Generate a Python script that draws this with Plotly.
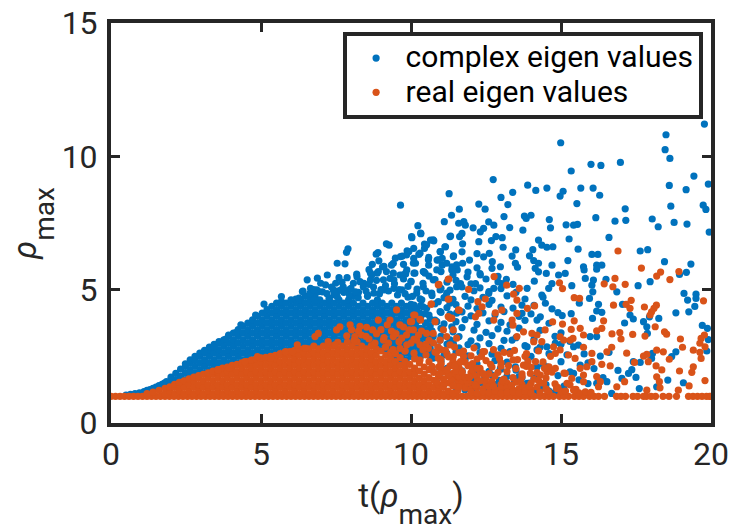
import plotly.graph_objects as go

# ---- complex eigen values: dense mass, read column by column (t, list of rho) ----
blue_col_t = [0.5,0.8,1.1,1.3,1.5,1.7,1.85,2.0,2.16,2.32,2.48,2.64,2.8,2.96,3.12,3.28,3.44,3.6,3.76,3.92,4.08,4.24,4.4,4.56,4.72,4.88,5.04,5.2,5.36,5.52,5.68,5.84,6.0,6.16,6.32,6.48,6.64,6.8,6.96,7.12,7.28,7.44,7.6,7.76,7.92,8.08,8.24,8.4,8.56,8.72,8.88,9.04,9.2,9.36,9.52,9.68,9.84,10.0,10.16,10.32,10.48,10.64]
blue_col_rho = [
[1.05],[1.1],[1.18],[1.25],[1.35],[1.45],[1.35,1.55],[1.5,1.72],[1.62,1.86],
[1.5,1.75,2.02],[1.62,1.87,2.12,2.22],[1.75,2.0,2.25,2.37],[1.87,2.12,2.37,2.5],[2.0,2.25,2.5,2.62],
[1.87,2.12,2.37,2.62,2.72],[2.0,2.25,2.5,2.75,2.85],[2.12,2.37,2.62,2.87,2.95],[2.25,2.5,2.75,3.0,3.05],
[2.12,2.37,2.62,2.87,3.12],[2.25,2.5,2.75,3.0,3.25,3.3],[2.37,2.62,2.87,3.12,3.37],[2.25,2.5,2.75,3.0,3.25,3.5],
[2.37,2.62,2.87,3.12,3.37,3.62],[2.5,2.75,3.0,3.25,3.5,3.75],[2.37,2.62,2.87,3.12,3.37,3.62,3.87],[2.5,2.75,3.0,3.25,3.5,3.75,4.0],
[2.62,2.87,3.12,3.37,3.62,3.87,4.12],[2.5,2.75,3.0,3.25,3.5,3.75,4.0,4.25],[2.62,2.87,3.12,3.37,3.62,3.87,4.12,4.37],[2.75,3.0,3.25,3.5,3.75,4.0,4.25,4.5],
[2.62,2.87,3.12,3.37,3.62,3.87,4.12,4.37,4.55],[2.75,3.0,3.25,3.5,3.75,4.0,4.25,4.5],[2.87,3.12,3.37,3.62,3.87,4.12,4.37,4.62],[2.75,3.0,3.25,3.5,3.75,4.0,4.25,4.5,4.65],
[2.87,3.12,3.37,3.62,3.87,4.12,4.37,4.62],[3.0,3.25,3.5,3.75,4.0,4.25,4.5,4.75],[2.87,3.12,3.37,3.62,3.87,4.12,4.37,4.62,4.85],[3.0,3.25,3.5,3.75,4.0,4.25,4.5,4.75],
[2.87,3.12,3.37,3.62,3.87,4.12,4.37,4.62],[3.0,3.25,3.5,3.75,4.0,4.25,4.5],[3.12,3.37,3.62,3.87,4.12,4.37,4.62],[3.0,3.25,3.5,3.75,4.0,4.25,4.5,4.8],
[3.12,3.37,3.62,3.87,4.12,4.37,4.62],[3.0,3.25,3.5,3.75,4.0,4.25,4.5,4.9],[3.12,3.37,3.62,3.87,4.12,4.37,4.62],[3.0,3.25,3.5,3.75,4.0,4.25,4.5,4.75],
[2.87,3.12,3.37,3.62,3.87,4.12,4.37,4.7],[3.0,3.25,3.5,3.75,4.0,4.25,4.5],[2.87,3.12,3.37,3.62,3.87,4.12,4.37,4.8],[3.0,3.25,3.5,3.75,4.0,4.25,4.5],
[2.87,3.12,3.37,3.62,3.87,4.12,4.37,4.62],[2.75,3.0,3.25,3.5,3.75,4.0,4.25,4.5],[2.62,2.87,3.12,3.37,3.62,3.87,4.12,4.37],[2.5,2.75,3.0,3.25,3.5,3.75,4.0,4.25,4.5],
[2.37,2.62,2.87,3.12,3.37,3.62,3.87,4.12,4.37],[2.25,2.5,2.75,3.0,3.25,3.5,3.75,4.0,4.25,4.5],[2.37,2.62,2.87,3.12,3.37,3.62,3.87,4.12,4.37],[2.5,2.75,3.0,3.25,3.5,3.75,4.0,4.25,4.45],
[2.62,2.87,3.12,3.37,3.62,3.87,4.3],[2.5,2.75,3.0,3.25,3.55,3.95,4.4],[2.62,2.87,3.2,3.45,3.75,4.1],[2.5,2.8,3.0,3.35,3.65,3.9],
]

# ---- complex eigen values: individually readable points ----
blue_t = [19.78,18.5,18.47,18.63,14.99,16.0,16.33,16.98,15.34,19.43,12.74,19.91,18.61,13.89,14.16,14.53,13.39,11.27,15.66,16.07,19.17,15.07,14.97,16.29,13.0,13.23,15.53,18.66,19.74,19.83,17.14,12.26,12.47,11.61,9.65,11.35,13.1,13.78,14.0,13.84,14.61,16.16,16.8,17.16,18.04,18.77,19.2,18.24,19.94,11.11,11.59,11.76,11.81,12.07,12.59,12.76,13.29,15.17,15.42,15.55,14.65,13.73,10.23,10.33,10.03,12.31,12.42,11.7,11.62,11.32,16.6,15.27,12.83,13.04,12.68,12.26,11.72,14.25,14.36,14.53,14.73,10.65,10.76,10.45,10.45,11.15,13.07,13.49,14.06,15.57,17.64,17.89,16.03,16.23,10.09,9.87,9.71,10.98,11.7,12.2,12.42,12.61,13.37,13.95,10.26,10.09,10.15,10.59,11.42,11.04,10.87,11.95,11.72,12.71,15.23,18.45,19.33,15.75,15.77,16.19,16.36,16.19,14.7,13.48,13.55,14.09,14.25,14.14,12.98,12.7,12.2,10.59,10.43,9.82,11.37,11.04,11.54,14.25,14.51,14.92,15.14,15.81,16.08,16.03,16.5,19.18,18.95,17.97,17.57,12.31,12.15,11.87,11.65,13.03,13.18,14.11,15.36,16.86,19.1,19.22,19.5,19.5,14.7,14.59,14.36,13.87,12.76,12.59,15.95,16.06,14.48,15.61,16.25,17.05,19.46,19.26,18.83,16.19,16.36,16.05,15.34,15.04,14.31,14.2,13.7,13.7,17.3,17.41,17.12,17.75,17.95,18.26,17.86,17.88,19.71,19.88,19.91,19.86,18.83,18.69,18.05,18.02,17.41,17.64,17.36,17.25,17.5,17.03,18.56,19.08,17.61,18.19,16.31,15.77,15.42,15.97,16.19,15.58,14.81,14.53,14.2,13.87,13.37,15.42,15.64,16.53,16.69,16.19,13.87,13.48,12.98,12.48,14.53,
5.1,5.68,4.33,4.82,3.11,3.44,3.83,4.16,6.54,6.88,6.99,7.21,7.49,7.6,7.87,8.19,7.54,7.8,7.9,7.85,8.9,8.84,8.93,9.18,9.27,9.48,9.65,9.85,9.41,9.93,8.71,9.1,8.65,8.87,9.18,8.65,9.7,9.82,9.43,6.38,6.65,6.27,6.93,7.27,7.54,6.77,7.93,8.43,8.76,9.1,9.43,9.7,
6.86,6.63,7.41,7.74,8.08,8.41,8.69,8.91,9.08,9.41,9.63,9.86,10.08,10.3,10.13,10.41,10.58,10.52,10.74,10.02,10.32,11.3,11.13,10.97,11.41,10.91,11.19,11.52,10.86,10.47,10.74,11.36,10.41,10.19,10.97,11.52,10.69,11.19,10.36,10.91,11.3,10.52,10.97,10.19,11.52,11.36,10.86,10.52,10.97,11.41,10.74,11.19,10.74,
0.65,0.95,1.2,1.4,1.6,1.78,7.2,7.55,7.95,8.25,8.55,8.95,9.25,9.55,9.8,10.05,
6.4,6.75,7.05,7.35,7.65,8.0,8.3,8.6,8.85,9.15,9.45,9.75,7.15,7.45,7.7,8.15,8.5,8.75,9.0,9.3,9.6,9.9,8.2,8.6,9.05,9.35,9.75,10.0]
blue_rho = [11.21,10.81,10.25,9.92,10.51,9.7,9.66,9.77,9.45,9.26,9.13,8.96,8.91,8.92,8.72,8.81,8.65,8.6,8.81,8.81,8.75,8.69,8.51,8.54,8.46,8.19,8.23,8.13,8.17,8.01,8.03,8.21,8.02,8.02,8.17,7.79,7.74,7.76,7.79,7.67,7.63,7.7,7.57,7.6,7.65,7.52,7.46,7.36,7.16,7.55,7.49,7.55,7.42,7.32,7.54,7.42,7.33,7.43,7.42,7.45,7.32,7.23,7.4,7.1,6.95,7.17,7.3,7.11,6.99,7.01,6.96,6.9,6.99,6.95,6.84,6.8,6.72,6.86,6.67,6.59,6.61,6.86,6.83,6.71,6.55,6.61,6.59,6.49,6.5,6.52,6.45,6.5,6.32,6.32,6.55,6.46,6.26,6.42,6.42,6.35,6.23,6.36,6.26,6.27,6.32,6.17,5.99,6.21,6.27,6.17,6.11,6.11,5.99,6.05,6.09,6.05,5.96,5.86,5.74,5.92,5.92,5.77,5.92,5.99,5.84,6.09,5.99,5.8,5.86,5.8,5.82,5.92,5.67,5.59,5.86,5.92,5.74,5.67,5.61,5.55,5.61,5.42,5.36,5.17,5.39,5.65,5.57,5.3,5.15,5.55,5.23,5.48,5.23,5.23,5.39,5.32,5.15,4.92,4.86,4.61,4.83,4.67,5.23,5.05,4.8,5.05,5.05,4.86,4.67,4.92,4.49,4.49,4.45,4.45,4.37,4.17,4.13,4.2,4.15,3.92,4.1,4.03,3.98,3.86,4.42,4.11,4.05,3.9,3.75,3.8,3.98,3.92,3.61,3.36,3.66,3.55,3.13,2.7,2.67,2.49,2.61,2.42,2.3,2.27,2.0,1.86,1.71,1.67,1.61,1.51,1.29,1.36,2.51,2.59,2.86,3.24,3.24,2.92,3.0,2.86,2.74,2.86,3.11,1.86,2.17,1.55,1.11,1.49,1.49,2.11,2.05,1.49,2.11,
4.46,4.74,3.68,4.05,2.68,2.84,3.15,3.39,5.37,5.43,5.24,5.55,5.24,5.45,5.45,5.58,5.99,5.97,6.53,6.4,6.39,6.33,6.08,6.72,6.67,6.18,6.24,6.3,5.99,6.43,5.95,5.87,5.62,5.62,5.68,5.37,5.55,5.62,5.37,4.93,5.05,4.68,4.93,4.68,4.74,4.62,4.99,5.24,4.87,4.99,5.05,4.99,
4.99,4.86,4.99,5.11,5.24,5.11,5.55,5.68,5.37,5.62,5.55,5.74,5.99,6.37,5.62,5.68,6.12,6.68,6.87,6.99,7.12,6.99,6.61,6.43,6.24,6.12,5.99,5.93,5.74,5.62,5.37,5.74,5.11,4.87,4.99,5.11,4.87,4.87,4.62,4.55,4.49,4.3,4.18,4.24,4.12,3.61,3.8,3.49,3.11,2.99,3.24,2.62,2.43,
1.07,1.13,1.22,1.3,1.4,1.5,4.85,4.95,4.8,4.9,4.75,4.85,4.95,4.8,4.85,4.75,
4.95,5.0,4.92,5.1,4.98,5.05,5.3,5.2,5.35,5.15,5.22,5.4,5.18,4.9,5.28,4.92,4.95,5.1,5.0,5.42,5.0,5.12,5.48,5.75,5.85,5.92,5.95,5.3]

# ---- complex eigen values: scattered mid-density field right of the solid mass ----
blue_field_t = [10.1,10.6,11.0,11.4,11.9,12.3,12.9,10.0,10.4,10.8,11.2,11.5,12.0,12.5,12.9,13.4,10.2,10.5,11.0,11.3,11.7,12.1,12.3,12.6,13.0,13.5,9.9,10.3,10.7,11.1,11.4,11.8,12.0,12.4,12.7,13.2,13.8,14.4,10.1,10.4,10.8,11.2,11.5,11.9,12.2,12.6,13.0,13.4,14.1,14.7,10.3,10.6,11.0,11.3,11.7,12.0,12.4,12.8,13.1,13.6,14.0,14.9,10.2,10.5,10.8,11.1,11.5,11.8,12.2,12.6,13.0,13.3,13.8,14.6,10.4,10.7,11.0,11.4,11.7,12.1,12.5,12.9,13.2,13.6,14.3,15.0,10.3,10.6,11.0,11.3,11.6,12.0,12.3,12.7,13.1,13.5,14.1,14.8,15.3,10.5,10.9,11.2,11.6,11.9,12.2,12.6,13.0,13.8,14.3,15.0,10.7,11.1,11.5,11.9,12.3,12.7,13.3,14.0,14.6,15.2,16.6,11.0,11.4,11.8,12.2,12.8,13.2,13.9,14.4,15.0,15.9,11.2,11.7,12.1,12.6,13.0,13.5,14.2,15.3,16.1,16.9,11.5,12.1,12.5,13.1,13.6,14.1,14.9,15.6,16.4,12.0,12.6,13.2,13.9,14.5,15.1,15.9,
10.7,10.95,11.2,11.45,11.7,11.95,12.2,12.45,12.7,12.95,13.2,13.45,13.7,13.95,14.2,10.85,11.1,11.35,11.6,11.85,12.1,12.35,12.6,12.85,13.1,13.35,13.6,13.85,14.1,14.35,14.6,11.5,11.8,12.1,12.4,12.7,13.0,13.3,13.6,13.9,14.2,14.5,14.8]
blue_field_rho = [5.62,5.51,5.68,5.55,5.66,5.6,5.5,5.31,5.24,5.38,5.28,5.35,5.22,5.4,5.29,5.2,5.02,4.95,5.05,4.98,5.1,4.96,5.07,4.93,5.04,4.9,4.72,4.66,4.78,4.7,4.64,4.75,4.62,4.71,4.6,4.77,4.65,4.72,4.42,4.36,4.47,4.33,4.44,4.38,4.29,4.45,4.35,4.31,4.41,4.28,4.12,4.05,4.15,4.08,4.17,4.02,4.13,4.06,4.18,4.0,4.09,4.14,3.82,3.75,3.86,3.72,3.8,3.88,3.7,3.83,3.77,3.68,3.85,3.74,3.52,3.46,3.55,3.42,3.58,3.48,3.4,3.53,3.44,3.56,3.47,3.38,3.22,3.15,3.26,3.12,3.24,3.08,3.19,3.28,3.1,3.2,3.14,3.25,3.06,2.92,2.85,2.96,2.82,2.94,2.88,2.98,2.8,2.9,2.84,2.95,2.62,2.55,2.66,2.52,2.64,2.58,2.68,2.5,2.6,2.56,2.65,2.32,2.25,2.36,2.22,2.34,2.28,2.38,2.2,2.3,2.26,2.05,1.96,2.08,1.94,2.02,1.98,2.1,1.92,2.04,1.97,1.72,1.66,1.76,1.64,1.74,1.68,1.78,1.62,1.7,1.42,1.36,1.46,1.34,1.44,1.38,1.48,
2.0,1.85,1.95,1.75,1.9,1.7,1.85,1.65,1.8,1.6,1.75,1.55,1.7,1.5,1.65,1.55,1.45,1.6,1.4,1.55,1.35,1.5,1.3,1.45,1.25,1.4,1.2,1.35,1.15,1.3,1.2,1.18,1.25,1.15,1.22,1.12,1.2,1.1,1.18,1.12,1.22,1.3,1.15]

# ---- real eigen values: dense mass, read column by column (t, list of rho) ----
orange_col_t = [1.2,1.4,1.6,1.8,1.96,2.12,2.28,2.44,2.6,2.76,2.92,3.08,3.24,3.4,3.56,3.72,3.88,4.04,4.2,4.36,4.52,4.68,4.84,5.0,5.16,5.32,5.48,5.64,5.8,5.96,6.12,6.28,6.44,6.6,6.76,6.92,7.08,7.24,7.4,7.56,7.72,7.88,8.04,8.2,8.36,8.52,8.68,8.84,9.0,9.16,9.32,9.48,9.64,9.8,9.96,10.12,10.28,10.44,10.6,10.76,10.92,11.08,11.24,11.4,11.56]
orange_col_rho = [
[1.1],[1.16],[1.22],[1.1,1.3],[1.2,1.36],[1.1,1.34,1.45],[1.2,1.44,1.52],[1.1,1.34,1.58],[1.2,1.44,1.66],[1.1,1.34,1.58,1.72],[1.2,1.44,1.68,1.78],[1.1,1.34,1.58,1.82],[1.2,1.44,1.68,1.88],
[1.1,1.34,1.58,1.82,1.95],[1.2,1.44,1.68,1.92,2.0],[1.1,1.34,1.58,1.82,2.06],[1.2,1.44,1.68,1.92,2.1],[1.1,1.34,1.58,1.82,2.06,2.16],[1.2,1.44,1.68,1.92,2.16,2.2],
[1.1,1.34,1.58,1.82,2.06,2.26],[1.2,1.44,1.68,1.92,2.16,2.3],[1.1,1.34,1.58,1.82,2.06,2.3,2.36],[1.2,1.44,1.68,1.92,2.16,2.4],[1.1,1.34,1.58,1.82,2.06,2.3,2.44],[1.2,1.44,1.68,1.92,2.16,2.4,2.46],
[1.1,1.34,1.58,1.82,2.06,2.3,2.5],[1.2,1.44,1.68,1.92,2.16,2.4,2.54],[1.1,1.34,1.58,1.82,2.06,2.3,2.54,2.6],[1.2,1.44,1.68,1.92,2.16,2.4,2.64],[1.1,1.34,1.58,1.82,2.06,2.3,2.54,2.68],[1.2,1.44,1.68,1.92,2.16,2.4,2.64,2.72],
[1.1,1.34,1.58,1.82,2.06,2.3,2.54,2.76],[1.2,1.44,1.68,1.92,2.16,2.4,2.64,2.8],[1.1,1.34,1.58,1.82,2.06,2.3,2.54,2.78],[1.2,1.44,1.68,1.92,2.16,2.4,2.64,2.88],[1.1,1.34,1.58,1.82,2.06,2.3,2.54,2.78],[1.2,1.44,1.68,1.92,2.16,2.4,2.64,2.88],
[1.1,1.34,1.58,1.82,2.06,2.3,2.54,2.78,2.95],[1.2,1.44,1.68,1.92,2.16,2.4,2.64,2.88],[1.1,1.34,1.58,1.82,2.06,2.3,2.54,2.78,3.02],[1.2,1.44,1.68,1.92,2.16,2.4,2.64,2.88],[1.1,1.34,1.58,1.82,2.06,2.3,2.54,2.78,3.02],[1.2,1.44,1.68,1.92,2.16,2.4,2.64,2.88],
[1.1,1.34,1.58,1.82,2.06,2.3,2.54,2.78,3.05],[1.2,1.44,1.68,1.92,2.16,2.4,2.64,2.88],[1.1,1.34,1.58,1.82,2.06,2.3,2.54,2.78],[1.2,1.44,1.68,1.92,2.16,2.4,2.64,2.9],[1.1,1.34,1.58,1.82,2.06,2.3,2.54,2.78],[1.2,1.44,1.68,1.92,2.16,2.4,2.7],
[1.1,1.34,1.58,1.82,2.06,2.3,2.54,2.85],[1.2,1.44,1.68,1.92,2.16,2.4,2.64],[1.1,1.34,1.58,1.82,2.06,2.3,2.6],[1.2,1.44,1.68,1.92,2.16,2.45],[1.1,1.34,1.58,1.82,2.06,2.3,2.7],[1.2,1.44,1.68,1.92,2.2],
[1.1,1.34,1.58,1.82,2.06,2.4],[1.2,1.44,1.68,1.95,2.25],[1.1,1.34,1.58,1.82,2.1],[1.2,1.44,1.7,2.0],[1.1,1.34,1.6,1.9],[1.2,1.44,1.75,2.1],[1.1,1.36,1.65],[1.2,1.5,1.85],[1.12,1.4,1.7],[1.22,1.55],
]

# ---- real eigen values: rho = 1 strip, t positions ----
orange_base_t = [0,0.15,0.3,0.45,0.6,0.75,0.9,1.05,1.2,1.35,1.5,1.65,1.8,1.95,2.1,2.25,2.4,2.55,2.7,2.85,3.0,3.15,3.3,3.45,3.6,3.75,3.9,4.05,4.2,4.35,4.5,4.65,4.8,4.95,5.1,5.25,5.4,5.55,5.7,5.85,6.0,6.15,6.3,6.45,6.6,6.75,6.9,7.05,7.2,7.35,7.5,7.65,7.8,7.95,8.1,8.25,8.4,8.55,8.7,8.85,9.0,9.15,9.3,9.45,9.6,9.75,9.9,10.05,10.2,10.35,10.5,10.65,10.8,10.95,11.1,11.25,11.4,11.55,11.7,11.85,12.0,12.15,12.3,12.45,12.6,12.75,12.9,13.05,13.2,13.35,13.5,13.65,13.8,13.95,14.1,14.3,14.45,14.6,14.75,14.95,15.1,15.25,15.45,15.6,15.75,15.95,16.1,16.25,16.45,16.85,17.0,17.15,17.4,17.55,17.75,17.85,18.0,18.15,18.4,18.6,18.85,19.25,19.4,19.55,19.7,19.85,19.95,20.0]

# ---- real eigen values: individually readable points ----
orange_t = [16.9,17.68,18.32,18.19,18.93,18.63,16.8,16.44,16.73,17.14,12.77,11.26,10.93,11.92,13.19,13.61,13.42,13.53,12.48,12.23,11.26,14.95,15.05,15.44,15.62,19.75,17.34,17.17,17.3,16.75,17.78,18.18,18.1,18.02,17.97,14.12,13.88,10.68,11.61,13.03,12.81,13.53,12.37,12.26,16.42,15.44,14.72,15.05,13.37,13.4,10.09,10.32,9.98,11.31,12.15,12.76,14.47,15.34,15.64,15.75,16.36,16.19,18.14,18.45,18.52,16.7,16.96,17.0,17.39,17.8,19.78,19.67,19.63,19.8,18.98,19.05,14.03,14.2,13.75,13.53,14.09,14.36,14.97,15.09,15.31,15.4,15.75,16.03,16.69,16.53,17.19,18.19,18.41,17.86,17.75,18.61,19.41,19.63,19.67,14.75,14.97,14.81,15.25,15.47,16.03,15.86,15.64,16.36,16.64,17.45,17.91,18.17,18.36,18.95,19.41,19.36,18.19,18.28,19.8,18.3,17.86,17.12,19.27,18.91,16.19,16.31,16.25,15.75,15.75,15.36,15.14,14.81,14.53,14.31,13.98,13.75,15.2,14.86,14.42,16.86,15.81,15.42,
9.52,8.91,10.13,10.3,9.3,10.02,9.63,10.8,11.24,10.91,11.24,10.67,11.24,11.58,11.36,7.63,7.52,7.97,8.02,8.3,8.52,8.72,6.8,6.91,7.24,7.47,7.86,8.13,9.08,9.41,9.69,10.08,10.52,11.08,11.41,11.52,10.3,10.58,10.97,11.3,10.91,11.41,10.13,9.63,9.86,10.19,10.74,11.19,9.21,9.93,6.21,5.82,6.05,6.49,5.32,4.88,4.46,3.94,3.57,
8.1,8.35,8.6,8.85,9.1,9.35,9.6,9.85,10.1,10.35,10.6,8.25,8.5,8.8,9.0,9.25,9.5,9.75,10.0,10.25,10.5,10.75,11.0,9.15,9.4,9.8,10.4,10.85]
orange_rho = [6.45,5.81,5.66,5.51,5.68,5.38,5.42,5.22,5.11,5.2,5.49,5.4,5.2,5.01,5.17,5.05,4.83,4.61,4.65,4.55,4.65,5.26,5.04,4.7,4.67,4.58,4.6,4.45,4.3,4.42,4.35,4.42,4.3,4.17,4.05,4.39,4.3,4.46,4.22,4.23,4.13,4.11,4.36,4.11,3.83,3.83,3.79,3.71,3.86,3.67,4.05,3.86,3.8,3.92,3.98,3.86,3.49,3.51,3.55,3.3,3.55,3.46,3.61,3.42,3.33,3.34,3.39,3.15,3.32,3.26,3.3,3.17,2.99,2.86,3.15,2.84,3.36,3.3,3.42,3.24,3.05,3.05,3.23,3.11,3.11,3.17,2.84,2.61,2.84,2.67,2.62,2.73,2.67,2.57,2.51,2.39,2.73,2.65,2.42,2.86,2.74,2.61,2.55,2.42,2.3,2.11,2.05,2.2,2.14,2.27,2.3,2.14,1.99,1.95,2.11,1.9,1.73,1.55,1.59,1.32,1.23,1.55,1.39,1.23,1.74,1.55,1.36,1.8,1.55,1.67,1.86,2.05,1.92,1.8,1.86,2.17,1.49,1.36,1.49,1.36,1.17,1.23,
4.24,3.86,4.05,3.89,3.86,3.8,3.68,3.8,3.99,5.18,5.39,4.46,4.64,4.24,3.93,3.61,3.49,3.68,3.49,3.62,3.59,3.49,3.24,3.36,3.05,2.93,3.27,3.24,3.11,3.24,3.18,3.49,3.36,3.49,3.49,3.18,2.93,2.8,3.11,2.93,2.43,2.49,2.43,2.8,2.93,3.11,3.36,3.24,3.68,3.49,2.93,2.68,2.68,2.8,2.43,2.49,2.3,2.05,1.99,
3.1,3.3,3.15,3.35,3.2,3.45,3.05,3.3,3.15,3.45,3.1,3.45,3.25,3.0,3.5,3.0,3.35,3.6,3.0,3.3,2.95,3.0,2.75,2.85,2.75,2.7,2.75,2.65]

# ---- real eigen values: scattered field right of the solid mass ----
orange_field_t = [10.1,10.5,10.8,11.2,11.6,12.0,12.4,12.9,13.3,13.8,10.3,10.6,11.0,11.4,11.8,12.2,12.5,13.0,13.4,13.9,14.4,10.7,11.0,11.3,11.6,12.0,12.3,12.7,13.0,13.5,14.0,14.6,11.1,11.4,11.7,12.0,12.3,12.6,12.9,13.2,13.7,14.2,14.7,15.1,11.6,11.9,12.2,12.5,12.8,13.1,13.4,13.7,14.1,14.5,11.7,12.0,12.2,12.5,12.7,13.0,13.2,13.5,13.7,14.0,14.3,14.8,15.3,11.8,12.0,12.2,12.4,12.6,12.8,13.0,13.2,13.4,13.6,13.8,14.0,14.2,14.5,14.9,15.5,12.0,12.2,12.4,12.6,12.8,13.0,13.2,13.4,13.6,13.8,14.0,14.3,14.6,15.0,15.6,16.0,
11.0,11.25,11.5,11.75,12.05,12.35,12.65,12.95,13.25,13.55,13.85,14.15,14.45,10.9,11.15,11.45,11.75,12.1,12.45,12.75,13.1,13.45,13.85,14.25,14.65,11.6,11.9,12.15,12.45,12.75,13.05,13.35,13.65,13.95,14.25,14.55,14.85,15.15,15.45,
10.85,11.1,11.35,11.6,11.85,12.1,10.95,11.25,11.5,11.8,12.05,12.3,11.0,11.2,11.45,11.7,11.95,12.2,12.4,11.1,11.4,11.65,11.9,12.15]
orange_field_rho = [2.62,2.55,2.66,2.58,2.64,2.52,2.68,2.56,2.6,2.5,2.36,2.3,2.38,2.32,2.28,2.4,2.34,2.26,2.37,2.31,2.29,2.12,2.06,2.14,2.08,2.16,2.05,2.1,2.13,2.04,2.09,2.11,1.92,1.86,1.94,1.88,1.96,1.85,1.9,1.93,1.84,1.89,1.91,1.87,1.72,1.66,1.74,1.68,1.76,1.65,1.7,1.73,1.64,1.69,1.52,1.46,1.54,1.48,1.56,1.45,1.5,1.53,1.44,1.49,1.51,1.47,1.43,1.32,1.26,1.34,1.28,1.36,1.25,1.3,1.33,1.24,1.29,1.31,1.27,1.35,1.28,1.32,1.26,1.16,1.12,1.18,1.14,1.2,1.11,1.15,1.17,1.13,1.19,1.12,1.16,1.14,1.18,1.13,1.15,
2.25,2.48,2.2,2.5,2.23,2.5,2.2,2.42,2.15,2.38,2.12,2.3,2.05,2.85,2.72,2.85,2.7,2.82,2.68,2.75,2.65,2.72,2.6,2.7,2.5,1.35,1.5,1.4,1.6,1.38,1.6,1.42,1.58,1.38,1.6,1.2,1.3,1.2,1.25,
1.55,1.5,1.62,1.75,1.6,1.8,1.85,1.78,1.95,1.72,2.0,1.58,2.2,2.0,2.12,1.9,1.72,2.05,1.85,1.65,1.4,2.3,2.15,1.42]

x_ticks = [0, 5, 10, 15, 20]
y_ticks = [0, 5, 10, 15]
name_complex = '<span style="font-size:30px">complex eigen values</span>'
name_real = '<span style="font-size:30px">real eigen values</span>'
SUB = '<sub><span style="font-size:28px;baseline-shift:-11px">max</span></sub>'
x_title = "t(<i>ρ</i>" + SUB + ")"
y_title = "<i>ρ</i>" + SUB

# Assemble the two series from the column tables and the point lists.
x_complex, y_complex = [], []
for t, rhos in zip(blue_col_t, blue_col_rho):
    for r in rhos:
        x_complex.append(t)
        y_complex.append(r)
x_complex += blue_t + blue_field_t
y_complex += blue_rho + blue_field_rho

x_real, y_real = [], []
for t in orange_base_t:
    x_real.append(t)
    y_real.append(1.0)
for t, rhos in zip(orange_col_t, orange_col_rho):
    for r in rhos:
        x_real.append(t)
        y_real.append(r)
x_real += orange_t + orange_field_t
y_real += orange_rho + orange_field_rho

INK = "#262626"
fig = go.Figure()
fig.add_trace(go.Scatter(x=x_complex, y=y_complex, mode="markers", name=name_complex,
                         marker=dict(color="#0072BD", size=7.2), cliponaxis=False))
fig.add_trace(go.Scatter(x=x_real, y=y_real, mode="markers", name=name_real,
                         marker=dict(color="#D95319", size=7.2), cliponaxis=False))

axis_style = dict(showgrid=False, zeroline=False, showline=True, linecolor=INK, linewidth=4,
                  mirror="ticks", ticks="inside", ticklen=9, tickwidth=3, tickcolor=INK,
                  tickfont=dict(family="Roboto", size=32, color=INK), automargin=False,
                  ticklabeloverflow="allow")
fig.update_layout(
    width=733, height=532, margin=dict(l=111, r=22, t=23, b=109),
    paper_bgcolor="white", plot_bgcolor="white",
    font=dict(family="Roboto", color=INK),
    showlegend=True,
    legend=dict(x=0.986, y=0.9775, xanchor="right", yanchor="top", bgcolor="white",
                bordercolor=INK, borderwidth=4, font=dict(family="Roboto", size=24, color="black"),
                itemsizing="trace", itemwidth=49, traceorder="normal"),
)
fig.update_xaxes(range=[0, 20], tickvals=x_ticks, ticktext=[str(v) for v in x_ticks],
                 title=dict(text=x_title, font=dict(family="Roboto", size=33, color=INK), standoff=12), **axis_style)
fig.update_yaxes(range=[0, 15], tickvals=y_ticks, ticktext=[str(v) for v in y_ticks], ticklabelstandoff=3,
                 title=dict(text=y_title, font=dict(family="Roboto", size=33, color=INK), standoff=16), **axis_style)
fig.write_html("out.html", config={"displayModeBar": False},
               post_script="document.body.style.margin='0';document.documentElement.style.overflow='hidden';")
